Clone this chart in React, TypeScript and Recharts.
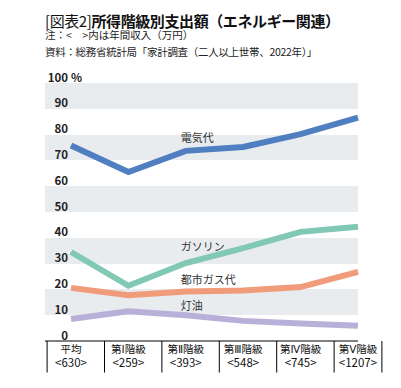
import React from "react";
import { LineChart, Line, XAxis, YAxis, CartesianGrid, LabelList } from "recharts";

const categories = ["平均", "第Ⅰ階級", "第Ⅱ階級", "第Ⅲ階級", "第Ⅳ階級", "第Ⅴ階級"];
const incomes = ["<630>", "<259>", "<393>", "<548>", "<745>", "<1207>"];
const electricity = [75.8, 65.5, 73.7, 75.2, 80.2, 86.6];
const gasoline = [34.5, 21.4, 30.2, 36.0, 42.3, 44.3];
const cityGas = [20.6, 17.7, 19.2, 19.6, 20.9, 26.8];
const kerosene = [8.5, 11.5, 10.0, 7.8, 6.8, 5.9];
const yTicks = [0, 10, 20, 30, 40, 50, 60, 70, 80, 90, 100];

const data = categories.map((c, i) => ({
  name: c,
  income: incomes[i],
  elec: electricity[i],
  gas: gasoline[i],
  city: cityGas[i],
  kero: kerosene[i],
}));

const FONT = '"Noto Sans CJK JP", "Noto Sans", sans-serif';
const CAT_FONT = '"DejaVu Sans", "Noto Sans CJK JP", sans-serif';
const HALF = 23.9;

const XTick = (props: any) => {
  const { x, y, payload, index } = props;
  const i = index ?? payload.index;
  const last = i === categories.length - 1;
  return (
    <g>
      <line x1={x - HALF} y1={y} x2={x - HALF} y2={y + 31.5} stroke="#000" strokeWidth={1} />
      {last && <line x1={x + HALF} y1={y} x2={x + HALF} y2={y + 31.5} stroke="#000" strokeWidth={1} />}
      <text x={x} y={y + 12} textAnchor="middle" fontSize={10.5} fill="#111" fontFamily={CAT_FONT}>
        {payload.value}
      </text>
      <text x={x} y={y + 26} textAnchor="middle" fontSize={11.5} fill="#111" fontFamily={FONT}>
        {incomes[i]}
      </text>
    </g>
  );
};

const YTick = (props: any) => {
  const { x, y, payload } = props;
  return (
    <g>
      <text x={x + 23} y={y - 6.5} textAnchor="end" dominantBaseline="central" fontSize={11.5} fontWeight="bold" fill="#222" fontFamily={FONT}>
        {payload.value}
      </text>
      {payload.value === 100 && (
        <text x={x + 26} y={y - 6.5} textAnchor="start" dominantBaseline="central" fontSize={11.5} fontWeight="bold" fill="#222" fontFamily={FONT}>
          %
        </text>
      )}
    </g>
  );
};

const makeLabel = (text: string, dy: number) => (props: any) => {
  const { x, y, index } = props;
  if (index !== 2) return null;
  return (
    <text x={x - 5} y={y + dy} textAnchor="start" dominantBaseline="central" fontSize={11} fill="#333" fontFamily={FONT}>
      {text}
    </text>
  );
};

export default function App() {
  return (
    <div style={{ position: "absolute", left: 0, top: 0, width: 401, height: 388, background: "#fff", fontFamily: FONT }}>
      <div style={{ position: "absolute", left: 45, top: 13, fontSize: 15, lineHeight: "15px", color: "#111", whiteSpace: "nowrap", letterSpacing: -0.4 }}>
        <span style={{ fontWeight: 400 }}>[図表2]</span>
        <span style={{ fontWeight: 700 }}>所得階級別支出額（エネルギー関連）</span>
      </div>
      <div style={{ position: "absolute", left: 45, top: 29, fontSize: 10.5, lineHeight: "11px", color: "#222", whiteSpace: "nowrap" }}>
        注：&lt;　&gt;内は年間収入（万円）
      </div>
      <div style={{ position: "absolute", left: 45, top: 46, fontSize: 10.5, lineHeight: "11px", color: "#222", whiteSpace: "nowrap", letterSpacing: -0.3 }}>
        資料：総務省統計局「家計調査（二人以上世帯、2022年）」
      </div>
      <div style={{ position: "absolute", left: 0, top: 0 }}>
        <LineChart width={401} height={388} data={data} margin={{ top: 83, right: 43, bottom: 7, left: 0 }}>
          <CartesianGrid vertical={false} stroke="none" horizontalFill={["#e9ecef", "#ffffff"]} />
          <XAxis
            dataKey="name"
            padding={{ left: 26, right: 0 }}
            height={40}
            axisLine={{ stroke: "#000", strokeWidth: 1 }}
            tickLine={false}
            tickSize={0}
            tickMargin={0}
            interval={0}
            tick={<XTick />}
          />
          <YAxis
            width={45}
            domain={[0, 100]}
            ticks={yTicks}
            axisLine={false}
            tickLine={false}
            tickSize={0}
            tickMargin={0}
            tick={<YTick />}
          />
          <Line dataKey="kero" stroke="#b8b0d9" strokeWidth={6} dot={false} isAnimationActive={false} strokeLinejoin="miter">
            <LabelList dataKey="kero" content={makeLabel("灯油", -10)} />
          </Line>
          <Line dataKey="city" stroke="#f09c7b" strokeWidth={6} dot={false} isAnimationActive={false} strokeLinejoin="miter">
            <LabelList dataKey="city" content={makeLabel("都市ガス代", -12.5)} />
          </Line>
          <Line dataKey="gas" stroke="#82c9b5" strokeWidth={6} dot={false} isAnimationActive={false} strokeLinejoin="miter">
            <LabelList dataKey="gas" content={makeLabel("ガソリン", -17.5)} />
          </Line>
          <Line dataKey="elec" stroke="#4f7fc0" strokeWidth={6} dot={false} isAnimationActive={false} strokeLinejoin="miter">
            <LabelList dataKey="elec" content={makeLabel("電気代", -14)} />
          </Line>
        </LineChart>
      </div>
    </div>
  );
}
